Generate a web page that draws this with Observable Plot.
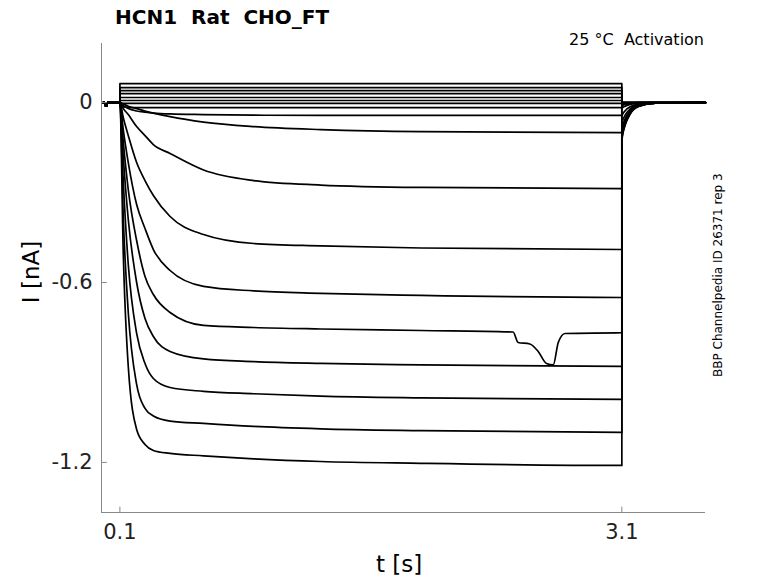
<!DOCTYPE html>
<html><head><meta charset="utf-8">
<script src="https://cdn.jsdelivr.net/npm/d3@7"></script>
<script src="https://cdn.jsdelivr.net/npm/@observablehq/plot@0.6"></script>
<style>body{margin:0;background:#fff;font-family:"DejaVu Sans";}#c{position:relative;width:778px;height:583px}
.t{position:absolute;white-space:nowrap}</style></head><body><div id="c"></div>
<script>
// times (s) of step samples
const stepTimes = [0.1, 0.12, 0.15, 0.2, 0.25, 0.3, 0.4, 0.6, 0.9, 1.3, 1.9, 3.1];
const tailTimes = [3.1, 3.12, 3.15, 3.2, 3.3, 3.6];
// step current traces, nA
const steps = [
  [0.063,0.063,0.063,0.063,0.063,0.063,0.063,0.063,0.063,0.063,0.063,0.063],
  [0.05,0.05,0.05,0.05,0.05,0.05,0.05,0.05,0.05,0.05,0.05,0.05],
  [0.04,0.04,0.04,0.04,0.04,0.04,0.04,0.04,0.04,0.04,0.04,0.04],
  [0.03,0.03,0.03,0.03,0.03,0.03,0.03,0.03,0.03,0.03,0.03,0.03],
  [0.017,0.017,0.017,0.017,0.017,0.017,0.017,0.017,0.017,0.017,0.017,0.017],
  [0.007,0.007,0.007,0.007,0.007,0.007,0.007,0.007,0.007,0.007,0.007,0.007],
  [-0.003,-0.003,-0.003,-0.003,-0.003,-0.003,-0.003,-0.003,-0.003,-0.003,-0.003,-0.003],
  [-0.012,-0.014,-0.016,-0.017,-0.017,-0.017,-0.017,-0.017,-0.017,-0.017,-0.017,-0.017],
  [0,-0.01,-0.02,-0.028,-0.032,-0.035,-0.038,-0.04,-0.042,-0.043,-0.043,-0.043],
  [0,-0.005,-0.012,-0.02,-0.028,-0.035,-0.047,-0.065,-0.08,-0.09,-0.097,-0.10],
  [0,-0.02,-0.04,-0.08,-0.11,-0.14,-0.17,-0.225,-0.26,-0.275,-0.283,-0.287],
  [0,-0.05,-0.11,-0.20,-0.26,-0.31,-0.38,-0.44,-0.47,-0.478,-0.485,-0.49],
  [0,-0.09,-0.20,-0.34,-0.42,-0.49,-0.56,-0.613,-0.628,-0.636,-0.643,-0.65],
  [0,-0.13,-0.29,-0.46,-0.58,-0.64,-0.70,-0.743,-0.75,-0.755,-0.76,-0.767],
  [0,-0.18,-0.39,-0.60,-0.72,-0.78,-0.83,-0.855,-0.864,-0.87,-0.875,-0.88],
  [0,-0.26,-0.54,-0.77,-0.87,-0.92,-0.95,-0.963,-0.971,-0.979,-0.985,-0.99],
  [0,-0.38,-0.70,-0.94,-1.02,-1.045,-1.062,-1.07,-1.08,-1.088,-1.094,-1.10],
  [0,-0.50,-0.88,-1.09,-1.14,-1.16,-1.17,-1.178,-1.188,-1.197,-1.203,-1.21]
];
// glitch on trace 13 (times, values)
const glitchTimes = [2.45, 2.48, 2.55, 2.6, 2.65, 2.69, 2.72, 2.76];
const glitchValues = [-0.765, -0.80, -0.805, -0.83, -0.87, -0.875, -0.80, -0.77];
const tails = [
  [0,0,0,0,0,0],[0,0,0,0,0,0],[0,0,0,0,0,0],[0,0,0,0,0,0],[0,0,0,0,0,0],[0,0,0,0,0,0],
  [-0.005,-0.003,-0.002,0,0,0],[-0.006,-0.004,-0.002,0,0,0],[-0.01,-0.006,-0.003,-0.001,0,0],
  [-0.02,-0.012,-0.006,-0.002,0,0],[-0.045,-0.027,-0.014,-0.005,-0.001,0],
  [-0.07,-0.042,-0.021,-0.007,-0.001,0],[-0.09,-0.054,-0.027,-0.009,-0.002,0],
  [-0.10,-0.06,-0.03,-0.01,-0.002,0],[-0.11,-0.066,-0.033,-0.011,-0.002,0],
  [-0.115,-0.069,-0.035,-0.012,-0.002,0],[-0.12,-0.072,-0.036,-0.012,-0.002,0],
  [-0.125,-0.075,-0.038,-0.013,-0.002,0]
];
const holdTimes = [0, 0.01, 0.015, 0.02, 0.025, 0.1];
const holdValues = [0, 0, -0.012, -0.012, 0, 0];
const xTicks = [0.1, 3.1];
const yTicks = [0, -0.6, -1.2];

const rows = [];
steps.forEach((s, k) => {
  holdTimes.forEach((t, i) => rows.push({k, t, v: holdValues[i]}));
  s.forEach((v, i) => {
    if (k === 13 && stepTimes[i] === 3.1) glitchTimes.forEach((t, j) => rows.push({k, t, v: glitchValues[j]}));
    rows.push({k, t: stepTimes[i], v});
  });
  tails[k].forEach((v, i) => rows.push({k, t: tailTimes[i], v}));
});
const x0 = -0.01, y0 = -1.367;
const svg = Plot.plot({
  width: 778, height: 583, marginLeft: 101, marginRight: 73, marginTop: 43, marginBottom: 71,
  style: {fontFamily: "DejaVu Sans", fontSize: "21px", color: "#222"},
  x: {domain: [x0, 3.6]}, y: {domain: [y0, 0.197]},
  marks: [
    Plot.lineY(rows, {x: "t", y: "v", z: "k", stroke: "#000", strokeWidth: 1.7, curve: "monotone-x"}),
    Plot.ruleX([x0], {stroke: "#888"}),
    Plot.ruleY([y0], {stroke: "#888"}),
    Plot.ruleY(yTicks, {x1: x0, x2: x0 + 0.035, stroke: "#888"}),
    Plot.ruleX(xTicks, {y1: y0, y2: y0 + 0.018, stroke: "#888"}),
    Plot.axisY(yTicks, {tickSize: 0, tickPadding: 9, tickFormat: d => String(d), label: null, fontSize: 21}),
    Plot.axisX(xTicks, {tickSize: 0, tickPadding: 12, tickFormat: d => String(d), label: null, fontSize: 21})
  ]
});
const c = document.getElementById("c");
c.appendChild(svg);
svg.style.position = "absolute"; svg.style.left = "0"; svg.style.top = "0";
function txt(s, css){const d=document.createElement("div");d.className="t";d.textContent=s;d.style.cssText+=css;c.appendChild(d);}
txt("HCN1  Rat  CHO_FT", "left:115px;top:5px;font-size:20px;font-weight:bold;white-space:pre;");
txt("25 °C  Activation", "right:74px;top:30px;font-size:16px;white-space:pre;");
txt("t [s]", "left:376px;top:551px;font-size:23px;");
txt("I [nA]", "left:-4px;top:259px;font-size:23px;transform:rotate(-90deg);transform-origin:center;width:70px;text-align:center;");
txt("BBP Channelpedia ID 26371 rep 3", "left:618px;top:270px;font-size:12px;width:200px;text-align:center;transform:rotate(-90deg);");
</script></body></html>
